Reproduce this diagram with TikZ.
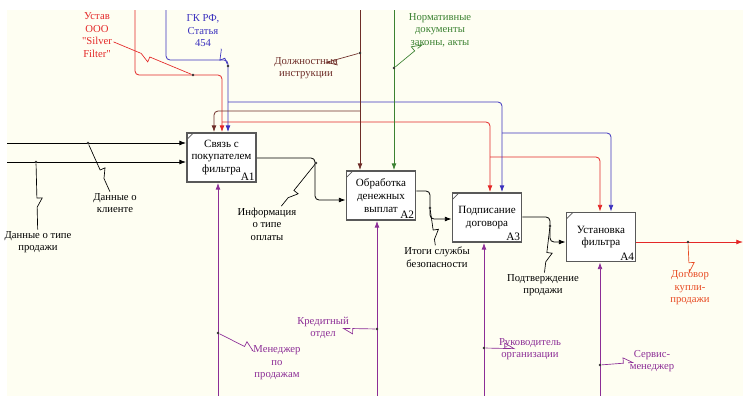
\documentclass[tikz,border=0pt]{standalone}
\usepackage{fontspec}
\setmainfont{Liberation Serif}[Ligatures=TeXOff]
\usetikzlibrary{arrows.meta, calc}

\definecolor{idefred}{RGB}{228,40,40}
\definecolor{idefblue}{RGB}{60,50,190}
\definecolor{idefbrown}{RGB}{110,45,40}
\definecolor{idefgreen}{RGB}{60,130,50}
\definecolor{idefpurple}{RGB}{140,45,150}
\definecolor{idefout}{RGB}{232,75,35}
\definecolor{idefpaper}{RGB}{254,254,242}

\begin{document}
\begin{tikzpicture}[x=0.75pt, y=-0.75pt,
  actbox/.style={draw=black!65, line width=1.1pt, fill=white, minimum width=52pt, minimum height=37pt, align=center, inner sep=1pt, font=\fontsize{8.3}{9.6}\selectfont,
    path picture={\draw[black!65, line width=0.5pt] ([yshift=-5pt]path picture bounding box.north west) -- ([xshift=5pt]path picture bounding box.north west);}},
  anum/.style={anchor=south east, inner sep=1.5pt, font=\fontsize{8.5}{9}\selectfont},
  lbl/.style={align=center, inner sep=1pt, font=\fontsize{8}{9.4}\selectfont},
  flow/.style={-{Latex[length=5pt,width=3.6pt]}, rounded corners=3pt, line width=0.6pt},
  jn/.style={circle, fill=black!80, inner sep=0pt, minimum size=2.2pt},
  squig/.style={line width=0.5pt, to path={let \p1=(\tikztostart), \p2=(\tikztotarget), \n1={atan2(\y2-\y1,\x2-\x1)} in
    -- ($(\p1)!0.45!(\p2)$) -- ++(\n1+90:4pt) -- ($(\p1)!0.45!(\p2)+(\n1:7pt)$) -- (\tikztotarget)}}
]
\useasboundingbox (0,0) rectangle (743,396);
\fill[idefpaper] (7,10) rectangle (743,396);

% activity boxes
\node[actbox] (a1) at (221.5,157.5) {Связь с\\покупателем\\фильтра};
\node[actbox] (a2) at (381,195.5) {Обработка\\денежных\\выплат};
\node[actbox] (a3) at (487,217.5) {Подписание\\договора};
\node[actbox] (a4) at (601,237) {Установка\\фильтра};
\node[anum] (a1n) at (a1.south east) {A1};
\node[anum] (a2n) at (a2.south east) {A2};
\node[anum] (a3n) at (a3.south east) {A3};
\node[anum] (a4n) at (a4.south east) {A4};

% inputs
\coordinate (in1) at (7,143);
\coordinate (in2) at (7,162);
\draw[flow] (in1) -- (in1 -| a1.west);
\draw[flow] (in2) -- (in2 -| a1.west);

% outputs between boxes
\coordinate (o1a) at (315,158); \coordinate (o1b) at (315,200);
\draw[flow] (a1.east |- o1a) -- (o1a) -- (o1b) -- (o1b -| a2.west);
\coordinate (o2a) at (430,191); \coordinate (o2b) at (430,219);
\draw[flow] (a2.east |- o2a) -- (o2a) -- (o2b) -- (o2b -| a3.west);
\coordinate (o3a) at (550,217); \coordinate (o3b) at (550,242);
\draw[flow] (a3.east |- o3a) -- (o3a) -- (o3b) -- (o3b -| a4.west);
\coordinate (out4) at (743,242);
\draw[flow, idefred] (a4.east |- out4) -- (out4);

% controls - red
\coordinate (r0) at (135,10); \coordinate (r1) at (135,75); \coordinate (r2) at (222,75);
\draw[flow, idefred] (r0) -- (r1) -- (r2) -- (r2 |- a1.north);
\coordinate (r3) at (222,122); \coordinate (r4) at (490,122);
\draw[flow, idefred] (r3) -- (r4) -- (r4 |- a3.north);
\coordinate (r5) at (490,157); \coordinate (r6) at (600,157);
\draw[flow, idefred] (r5) -- (r6) -- (r6 |- a4.north);

% controls - blue
\coordinate (b0) at (166,10); \coordinate (b1) at (166,60); \coordinate (b2) at (228,60);
\draw[flow, idefblue] (b0) -- (b1) -- (b2) -- (b2 |- a1.north);
\coordinate (b3) at (228,102); \coordinate (b4) at (502,102);
\draw[flow, idefblue] (b3) -- (b4) -- (b4 |- a3.north);
\coordinate (b5) at (502,133); \coordinate (b6) at (611,133);
\draw[flow, idefblue] (b5) -- (b6) -- (b6 |- a4.north);

% controls - brown and green
\coordinate (d0) at (360,10); \coordinate (d1) at (360,111); \coordinate (d2) at (214,111);
\draw[flow, idefbrown] (d0) -- (d0 |- a2.north);
\draw[flow, idefbrown] (d1) -- (d2) -- (d2 |- a1.north);
\coordinate (g0) at (394,10);
\draw[flow, idefgreen] (g0) -- (g0 |- a2.north);

% mechanisms
\coordinate (m1) at (218,396); \coordinate (m2) at (377,396);
\coordinate (m3) at (484,396); \coordinate (m4) at (600,396);
\draw[flow, idefpurple] (m1) -- (m1 |- a1.south);
\draw[flow, idefpurple] (m2) -- (m2 |- a2.south);
\draw[flow, idefpurple] (m3) -- (m3 |- a3.south);
\draw[flow, idefpurple] (m4) -- (m4 |- a4.south);

% labels
\node[lbl, idefred] (lustav) at (97,35) {Устав\\ООО\\"Silver\\Filter"};
\node[lbl, idefblue] (lgk) at (203,31) {ГК РФ,\\Статья\\454};
\node[lbl, idefbrown] (ldolzh) at (306,68) {Должностные\\инструкции};
\node[lbl, idefgreen] (lnorm) at (440,30) {Нормативные\\документы\\законы, акты};
\node[lbl] (lclient) at (115,203) {Данные о\\клиенте};
\node[lbl] (ltype) at (38,242) {Данные о типе\\продажи};
\node[lbl] (linfo) at (267,224) {Информация\\о типе\\оплаты};
\node[lbl] (litogi) at (437,257) {Итоги службы\\безопасности};
\node[lbl] (lpodtv) at (543,285) {Подтверждение\\продажи};
\node[lbl, idefout] (ldog) at (690,288) {Договор\\купли-\\продажи};
\node[lbl, idefpurple] (lmen) at (277,363) {Менеджер\\по\\продажам};
\node[lbl, idefpurple] (lkred) at (323,328) {Кредитный\\отдел};
\node[lbl, idefpurple] (lruk) at (530,349) {Руководитель\\организации};
\node[lbl, idefpurple] (lserv) at (652,361) {Сервис-\\менеджер};

% squiggles
\node[jn] (jclient) at (88,143) {};
\node[jn] (jtype) at (36,162) {};
\node[jn] (justav) at (193,75) {};
\node[jn] (jgk) at (228,66) {};
\node[jn] (jdolzh) at (360,53) {};
\node[jn] (jnorm) at (394,68) {};
\node[jn] (jinfo) at (316,163) {};
\node[jn] (jitogi) at (430,208) {};
\node[jn] (jpodtv) at (550,226) {};
\node[jn] (jdog) at (688,242) {};
\node[jn] (jmen) at (218,333) {};
\node[jn] (jkred) at (377,329) {};
\node[jn] (jruk) at (484,348) {};
\node[jn] (jserv) at (600,365) {};
\draw[squig] (jclient) to (lclient);
\draw[squig] (jtype) to (ltype);
\draw[squig, idefred] (justav) to (lustav);
\draw[squig, idefblue] (jgk) to (lgk.south east);
\draw[squig, idefbrown] (jdolzh) to (ldolzh);
\draw[squig, idefgreen] (jnorm) to (lnorm);
\draw[squig] (jinfo) to (linfo);
\draw[squig] (jitogi) to (litogi);
\draw[squig] (jpodtv) to (lpodtv);
\draw[squig, idefout] (jdog) to (ldog);
\draw[squig, idefpurple] (jmen) to (lmen);
\draw[squig, idefpurple] (jkred) to (lkred);
\draw[squig, idefpurple] (jruk) to (lruk);
\draw[squig, idefpurple] (jserv) to (lserv);
\end{tikzpicture}
\end{document}
